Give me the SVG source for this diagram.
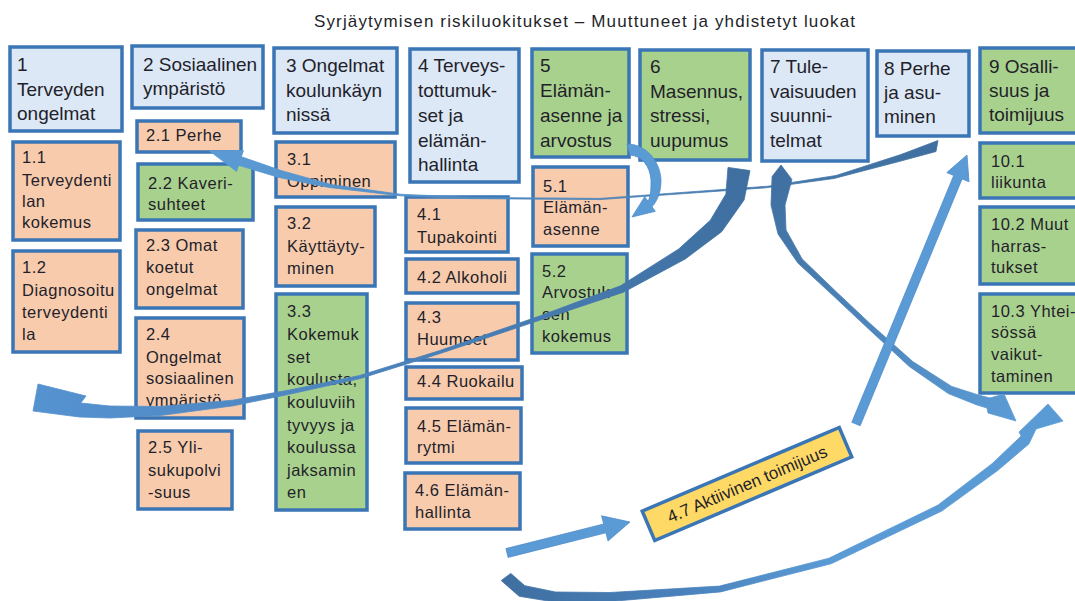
<svg xmlns="http://www.w3.org/2000/svg" width="1075" height="601" viewBox="0 0 1075 601">
<defs>
<style>
.box{stroke:#3a76b5;stroke-width:3.5}
.lb{fill:#dce8f6}.or{fill:#f8cbad}.gr{fill:#a9d18e}.ye{fill:#ffd966}
text{font-family:"Liberation Sans",Arial,sans-serif;fill:#231f2a}
.big{font-size:19px}
.sm{font-size:16.5px;letter-spacing:0.5px}
.ttl{font-size:17px}
.arr{stroke-width:0.8;stroke-linejoin:round}
.lt{fill:#5b9bd5;stroke:#4f8ccb}
</style>
<linearGradient id="gA" gradientUnits="userSpaceOnUse" x1="935" y1="145" x2="205" y2="150"><stop offset="0" stop-color="#3f6fa0"/><stop offset="1" stop-color="#5b9bd5"/></linearGradient>
<linearGradient id="gC" gradientUnits="userSpaceOnUse" x1="745" y1="168" x2="40" y2="400"><stop offset="0" stop-color="#3f6fa0"/><stop offset="1" stop-color="#5592d0"/></linearGradient>
<linearGradient id="gD" gradientUnits="userSpaceOnUse" x1="780" y1="165" x2="1015" y2="420"><stop offset="0" stop-color="#3f6fa0"/><stop offset="1" stop-color="#5b9bd5"/></linearGradient>
<linearGradient id="gH" gradientUnits="userSpaceOnUse" x1="500" y1="580" x2="1060" y2="410"><stop offset="0" stop-color="#3f6fa0"/><stop offset="0.3" stop-color="#4a82bd"/><stop offset="0.55" stop-color="#5b9bd5"/><stop offset="1" stop-color="#5b9bd5"/></linearGradient>
</defs>
<rect width="1075" height="601" fill="#ffffff"/>
<text class="ttl" x="584.5" y="27" text-anchor="middle" textLength="541" lengthAdjust="spacing">Syrjäytymisen riskiluokitukset – Muuttuneet ja yhdistetyt luokat</text>

<g id="n1"><rect class="box lb" x="10" y="47" width="112" height="84"/><text class="big"><tspan x="17" y="71">1</tspan><tspan x="17" y="96">Terveyden</tspan><tspan x="17" y="120">ongelmat</tspan></text></g>
<g id="n2"><rect class="box lb" x="132" y="46" width="131" height="62"/><text class="big"><tspan x="143" y="71">2 Sosiaalinen</tspan><tspan x="143" y="95">ympäristö</tspan></text></g>
<g id="n3"><rect class="box lb" x="274" y="48" width="123" height="85"/><text class="big"><tspan x="286" y="72">3 Ongelmat</tspan><tspan x="286" y="97">koulunkäyn</tspan><tspan x="286" y="121">nissä</tspan></text></g>
<g id="n4"><rect class="box lb" x="410" y="49" width="109" height="133"/><text class="big"><tspan x="418" y="72">4 Terveys-</tspan><tspan x="418" y="97">tottumuk-</tspan><tspan x="418" y="122">set ja</tspan><tspan x="418" y="147">elämän-</tspan><tspan x="418" y="171">hallinta</tspan></text></g>
<g id="n5"><rect class="box gr" x="532" y="49" width="97" height="108"/><text class="big"><tspan x="540" y="72">5</tspan><tspan x="540" y="97">Elämän-</tspan><tspan x="540" y="122">asenne ja</tspan><tspan x="540" y="147">arvostus</tspan></text></g>
<g id="n6"><rect class="box gr" x="640" y="50" width="110" height="110"/><text class="big"><tspan x="650" y="73">6</tspan><tspan x="650" y="98">Masennus,</tspan><tspan x="650" y="122">stressi,</tspan><tspan x="650" y="147">uupumus</tspan></text></g>
<g id="n7"><rect class="box lb" x="762" y="50" width="106" height="111"/><text class="big"><tspan x="770" y="73">7 Tule-</tspan><tspan x="770" y="98">vaisuuden</tspan><tspan x="770" y="122">suunni-</tspan><tspan x="770" y="147">telmat</tspan></text></g>
<g id="n8"><rect class="box lb" x="877" y="51" width="92" height="85"/><text class="big"><tspan x="884" y="75">8 Perhe</tspan><tspan x="884" y="99">ja asu-</tspan><tspan x="884" y="123">minen</tspan></text></g>
<g id="n9"><rect class="box gr" x="980" y="48" width="105" height="85"/><text class="big"><tspan x="989" y="73">9 Osalli-</tspan><tspan x="989" y="97">suus ja</tspan><tspan x="989" y="121">toimijuus</tspan></text></g>

<g id="n1-1"><rect class="box or" x="13" y="142" width="107" height="98"/><text class="sm"><tspan x="22" y="163">1.1</tspan><tspan x="22" y="186">Terveydenti</tspan><tspan x="22" y="207">lan</tspan><tspan x="22" y="228">kokemus</tspan></text></g>
<g id="n1-2"><rect class="box or" x="13" y="251" width="107" height="101"/><text class="sm"><tspan x="22" y="273">1.2</tspan><tspan x="22" y="296">Diagnosoitu</tspan><tspan x="22" y="318">terveydenti</tspan><tspan x="22" y="340">la</tspan></text></g>
<g id="n2-1"><rect class="box or" x="137" y="121" width="104" height="31"/><text class="sm"><tspan x="146" y="141">2.1 Perhe</tspan></text></g>
<g id="n2-2"><rect class="box gr" x="138" y="164" width="115" height="56"/><text class="sm"><tspan x="148" y="189">2.2 Kaveri-</tspan><tspan x="148" y="210">suhteet</tspan></text></g>
<g id="n2-3"><rect class="box or" x="136" y="230" width="107" height="78"/><text class="sm"><tspan x="146" y="251">2.3 Omat</tspan><tspan x="146" y="273">koetut</tspan><tspan x="146" y="295">ongelmat</tspan></text></g>
<g id="n2-4"><rect class="box or" x="136" y="318" width="108" height="100"/><text class="sm"><tspan x="146" y="340">2.4</tspan><tspan x="146" y="363">Ongelmat</tspan><tspan x="146" y="384">sosiaalinen</tspan><tspan x="146" y="406">ympäristö</tspan></text></g>
<g id="n2-5"><rect class="box or" x="138" y="431" width="94" height="78"/><text class="sm"><tspan x="148" y="453">2.5 Yli-</tspan><tspan x="148" y="476">sukupolvi</tspan><tspan x="148" y="498">-suus</tspan></text></g>
<g id="n3-1"><rect class="box or" x="276" y="142" width="119" height="55"/><text class="sm"><tspan x="287" y="165">3.1</tspan><tspan x="287" y="187">Oppiminen</tspan></text></g>
<g id="n3-2"><rect class="box or" x="276" y="207" width="99" height="79"/><text class="sm"><tspan x="287" y="229">3.2</tspan><tspan x="287" y="252">Käyttäyty-</tspan><tspan x="287" y="274">minen</tspan></text></g>
<g id="n3-3"><rect class="box gr" x="276" y="294" width="91" height="216"/><text class="sm"><tspan x="287" y="317">3.3</tspan><tspan x="287" y="340">Kokemuk</tspan><tspan x="287" y="363">set</tspan><tspan x="287" y="385">koulusta,</tspan><tspan x="287" y="408">kouluviih</tspan><tspan x="287" y="431">tyvyys ja</tspan><tspan x="287" y="453">koulussa</tspan><tspan x="287" y="476">jaksamin</tspan><tspan x="287" y="498">en</tspan></text></g>
<g id="n4-1"><rect class="box or" x="406" y="197" width="102" height="55"/><text class="sm"><tspan x="417" y="220">4.1</tspan><tspan x="417" y="243">Tupakointi</tspan></text></g>
<g id="n4-2"><rect class="box or" x="406" y="259" width="112" height="34"/><text class="sm"><tspan x="417" y="283">4.2 Alkoholi</tspan></text></g>
<g id="n4-3"><rect class="box or" x="406" y="303" width="112" height="57"/><text class="sm"><tspan x="417" y="323">4.3</tspan><tspan x="417" y="345">Huumeet</tspan></text></g>
<g id="n4-4"><rect class="box or" x="406" y="367" width="116" height="32"/><text class="sm"><tspan x="417" y="387">4.4 Ruokailu</tspan></text></g>
<g id="n4-5"><rect class="box or" x="406" y="408" width="115" height="55"/><text class="sm"><tspan x="417" y="432">4.5 Elämän-</tspan><tspan x="417" y="453">rytmi</tspan></text></g>
<g id="n4-6"><rect class="box or" x="405" y="473" width="115" height="56"/><text class="sm"><tspan x="415" y="496">4.6 Elämän-</tspan><tspan x="415" y="518">hallinta</tspan></text></g>
<g id="n5-1"><rect class="box or" x="533" y="167" width="95" height="79"/><text class="sm"><tspan x="543" y="192">5.1</tspan><tspan x="543" y="213">Elämän-</tspan><tspan x="543" y="235">asenne</tspan></text></g>
<g id="n5-2"><rect class="box gr" x="532" y="254" width="95" height="99"/><text class="sm"><tspan x="542" y="277">5.2</tspan><tspan x="542" y="298">Arvostuk-</tspan><tspan x="542" y="320">sen</tspan><tspan x="542" y="342">kokemus</tspan></text></g>
<g id="n10-1"><rect class="box gr" x="980" y="143" width="105" height="55"/><text class="sm"><tspan x="991" y="167">10.1</tspan><tspan x="991" y="188">liikunta</tspan></text></g>
<g id="n10-2"><rect class="box gr" x="980" y="207" width="105" height="77"/><text class="sm"><tspan x="991" y="230">10.2 Muut</tspan><tspan x="991" y="252">harras-</tspan><tspan x="991" y="273">tukset</tspan></text></g>
<g id="n10-3"><rect class="box gr" x="980" y="294" width="105" height="99"/><text class="sm"><tspan x="991" y="317">10.3 Yhtei-</tspan><tspan x="991" y="338">sössä</tspan><tspan x="991" y="360">vaikut-</tspan><tspan x="991" y="382">taminen</tspan></text></g>
<g id="n4-7" transform="translate(747,484) rotate(-23)"><rect class="box ye" x="-107" y="-16" width="214" height="32"/><text x="0" y="6" text-anchor="middle" style="font-size:17px">4.7 Aktiivinen toimijuus</text></g>

<g id="connectors">
<path class="arr" fill="url(#gA)" stroke="url(#gA)" d="M938,140.5 L901,154.5 L836,175.5 L768,186.2 L600,198.4 L470,197.4 L400,194.2 L331,184.5 L281,170.5 L241.4,156.7 L243.4,150.5 L209.6,151.1 L236.6,171.5 L238.6,165.3 L279,177.5 L329,187.5 L400,195.8 L470,198.6 L600,199.6 L766,187.8 L834,178.5 L899,161.5 L936,151.5 Z"/>
<path class="arr lt" d="M627,144 C645,144 660,160 661,180 C661,193 657,201 652,206.8 L655.3,211.3 L632,217 L644.7,196.7 L648,201.2 C651,196 651,188 651,180 C650,166 642,156 630,155 Z"/>
<path class="arr" fill="url(#gC)" stroke="url(#gC)" d="M728,167.4 L725.9,194.1 L710.3,220.3 L678.6,249.1 L620.5,285.8 L539.4,316.1 L439.6,350.6 L359.6,375.5 L289.6,390 L232.6,400.2 L159.7,406.5 L110,406 L80.7,403 L86,396 L38,384 L33,411 L79.3,417 L110,418 L160.3,415.5 L233.4,405.8 L290.4,394 L360.4,378.5 L440.4,353.4 L540.6,319.9 L623.5,292.2 L685.4,258.9 L721.7,231.7 L744.1,199.9 L750,170.6 Z"/>
<path class="arr" fill="url(#gD)" stroke="url(#gD)" d="M781,165 L791.9,179.5 L785,205 L786,230 L802.1,258.9 L836.7,292.2 L869.7,323.2 L912.8,361.6 L951.7,386.4 L979.2,395.2 L990,398 L1004,394 L1016,421 L988,413 L987,408 L976.8,404.9 L948.3,393.6 L909.2,366.4 L866.3,326.8 L833.3,295.8 L797.9,263.1 L778,234 L771,205 L772.1,176.5 Z"/>
<path class="arr" fill="url(#gH)" stroke="url(#gH)" d="M510.8,573.4 L524.8,585.7 L555.6,592 L609.9,592.5 L719.4,586.1 L828.7,558.3 L938,505.1 L992,463.7 L1021.1,436.1 L1019,432 L1048,404 L1063,421 L1036,429 L1028.9,443.9 L998,470.3 L942,510.9 L831.3,563.7 L720.6,591.9 L610.1,601.5 L554.4,602 L519.2,596.3 L501.2,580.6 Z"/>
<path class="arr lt" d="M851.8,422.3 L953.7,175.5 L946.8,172.6 L967,155 L969,181.8 L962.1,178.9 L860.2,425.7 Z"/>
<path class="arr lt" d="M505.9,548.6 L603.7,524 L601.6,515.8 L630,522 L608,541 L605.9,532.8 L508.1,557.4 Z"/>
</g>
</svg>
